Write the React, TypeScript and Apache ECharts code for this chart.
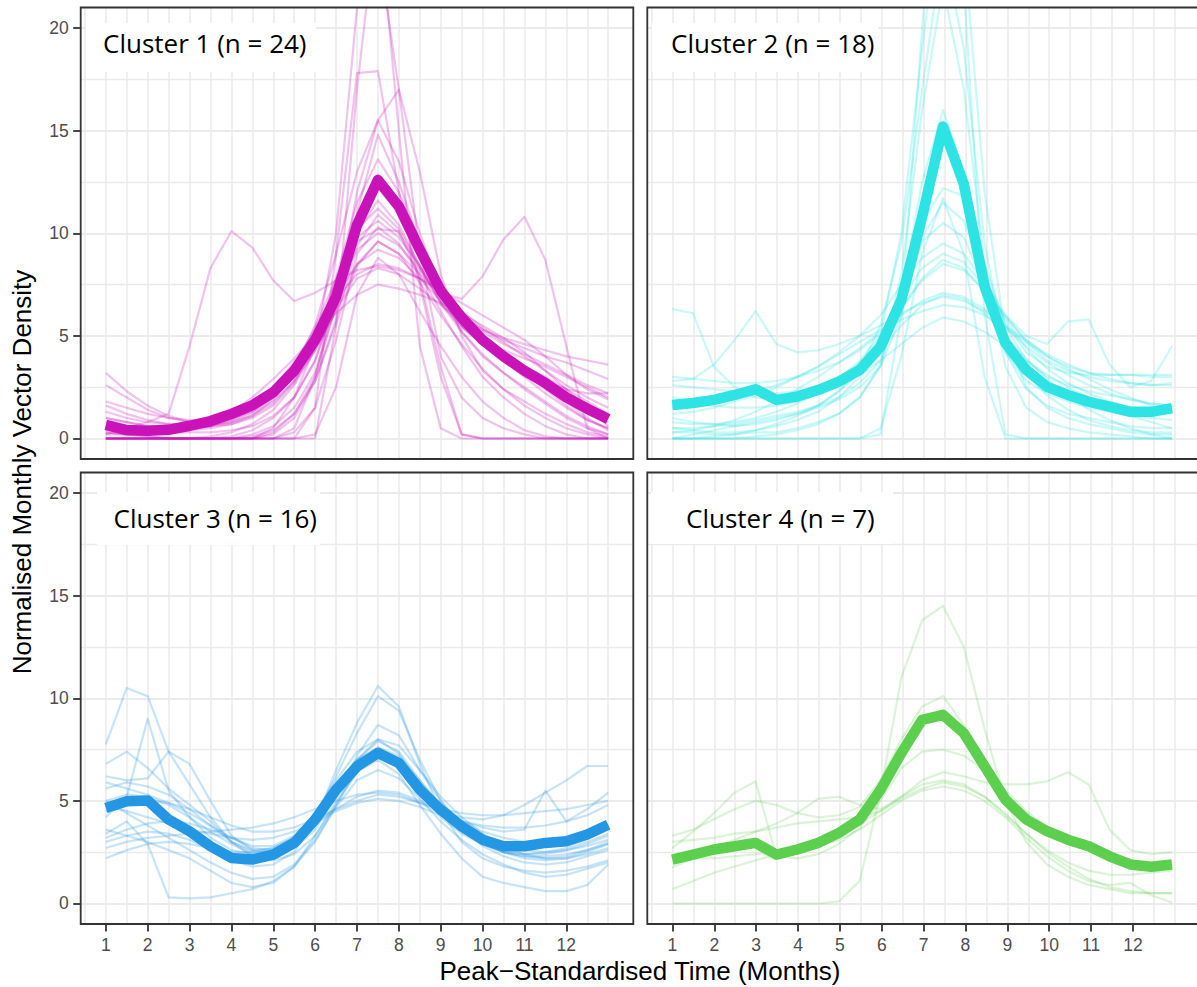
import React, { useEffect, useRef } from "react";
import * as echarts from "echarts";

// Peak-standardised month positions (half-month steps)
const MONTHS = [1, 1.5, 2, 2.5, 3, 3.5, 4, 4.5, 5, 5.5, 6, 6.5, 7, 7.5, 8, 8.5, 9, 9.5, 10, 10.5, 11, 11.5, 12, 12.5, 13];
const X_TICKS = [1, 2, 3, 4, 5, 6, 7, 8, 9, 10, 11, 12];
const Y_TICKS = [0, 5, 10, 15, 20];

const CLUSTER_LABELS = ["Cluster 1 (n = 24)", "Cluster 2 (n = 18)", "Cluster 3 (n = 16)", "Cluster 4 (n = 7)"];
const CLUSTER_COLORS = ["#CA12B9", "#2DE3E3", "#2397E3", "#5DCF4F"];

const X_TITLE = "Peak\u2212Standardised Time (Months)";
const Y_TITLE = "Normalised Monthly Vector Density";

// Cluster means
const C1_MEAN = [0.66, 0.41, 0.38, 0.42, 0.62, 0.85, 1.2, 1.62, 2.25, 3.3, 4.8, 6.9, 10.4, 12.6, 11.3, 9.2, 7.2, 5.9, 4.8, 4.0, 3.3, 2.7, 2.0, 1.45, 0.95];
const C2_MEAN = [1.63, 1.73, 1.88, 2.12, 2.4, 1.88, 2.04, 2.36, 2.77, 3.34, 4.47, 6.75, 10.8, 15.2, 12.4, 7.4, 4.65, 3.34, 2.52, 2.12, 1.79, 1.55, 1.3, 1.3, 1.48];
const C3_MEAN = [4.65, 4.98, 5.02, 4.09, 3.52, 2.79, 2.22, 2.14, 2.38, 2.95, 4.09, 5.54, 6.68, 7.33, 6.84, 5.54, 4.57, 3.76, 3.11, 2.79, 2.79, 2.95, 3.03, 3.36, 3.84];
const C4_MEAN = [2.14, 2.38, 2.63, 2.79, 2.95, 2.38, 2.63, 2.95, 3.44, 4.09, 5.54, 7.33, 8.95, 9.19, 8.3, 6.68, 5.06, 4.09, 3.52, 3.11, 2.79, 2.3, 1.9, 1.79, 1.9];

// Individual site profiles, cluster 1
const C1_SITES = [
  [0.2, 0.5, 0.8, 1.2, 4.5, 8.3, 10.1, 9.3, 7.7, 6.7, 7.1, 7.7, 8.2, 8.4, 8.2, 7.8, 7.1, 6.2, 5.4, 4.7, 4.0, 3.3, 2.6, 2.0, 1.5],
  [1.0, 0.8, 0.6, 0.5, 0.5, 0.6, 0.8, 1.2, 1.8, 2.8, 4.3, 6.2, 8.5, 9.6, 9.0, 8.0, 7.1, 6.8, 7.9, 9.7, 10.8, 8.7, 4.5, 0.5, 0.0],
  [0, 0, 0, 0, 0, 0, 0, 0, 0, 0, 0, 5.5, 17, 26, 15, 4.5, 0.5, 0, 0, 0, 0, 0, 0, 0, 0],
  [0, 0, 0, 0, 0, 0, 0, 0, 0, 0, 1.5, 9, 17.8, 17.9, 12, 7.5, 3, 0.2, 0, 0, 0, 0, 0, 0, 0],
  [0, 0, 0, 0, 0, 0, 0, 0, 0.5, 2, 4.5, 10, 21, 24, 17, 9, 4, 2, 1, 0.5, 0.2, 0, 0, 0, 0],
  [0.3, 0.2, 0.1, 0, 0, 0, 0, 0.2, 0.6, 1.5, 3.2, 6.5, 12, 15.5, 17, 13, 8, 5, 3.3, 2.4, 1.8, 1.2, 0.7, 0.3, 0.1],
  [1.8, 1.5, 1.2, 1.0, 0.9, 0.9, 1.0, 1.3, 2.0, 3.3, 5.5, 9, 13, 15.5, 13.5, 10, 7.2, 5.5, 4.6, 3.9, 3.2, 2.4, 1.6, 0.9, 0.5],
  [0, 0, 0, 0, 0, 0, 0, 0, 0.3, 1.2, 3, 6.5, 11, 14.8, 12.5, 9.5, 7, 5.2, 4, 3.2, 2.5, 1.8, 1.1, 0.6, 0.2],
  [3.2, 2.3, 1.6, 1.1, 0.8, 0.7, 0.8, 1.1, 1.7, 2.8, 4.6, 7.8, 11.5, 13.6, 12, 9.6, 7.4, 6.0, 5.2, 4.6, 4.1, 3.6, 3.1, 2.6, 2.2],
  [0.6, 0.5, 0.4, 0.3, 0.3, 0.3, 0.4, 0.6, 1.1, 2.0, 3.8, 6.8, 10.5, 12.8, 11.5, 9.2, 7.0, 5.6, 4.8, 4.3, 3.9, 3.5, 3.0, 2.5, 2.0],
  [1.6, 1.2, 0.9, 0.7, 0.6, 0.6, 0.7, 1.0, 1.6, 2.7, 4.5, 7.4, 10.6, 12.2, 11.0, 8.9, 6.9, 5.5, 4.6, 3.9, 3.2, 2.5, 1.8, 1.2, 0.8],
  [0, 0, 0, 0, 0, 0, 0.1, 0.4, 1.0, 2.0, 3.8, 6.8, 10.0, 11.6, 10.4, 8.4, 6.6, 5.4, 4.6, 4.0, 3.5, 3.0, 2.4, 1.8, 1.2],
  [2.6, 2.0, 1.4, 1.0, 0.8, 0.8, 0.9, 1.3, 2.0, 3.2, 5.0, 7.6, 10.2, 11.2, 10.2, 8.4, 6.7, 5.5, 4.6, 3.8, 3.0, 2.2, 1.5, 0.9, 0.5],
  [0.3, 0.2, 0.1, 0, 0, 0, 0, 0.1, 0.4, 1.2, 2.8, 5.8, 9.4, 10.9, 10.0, 8.3, 6.6, 5.2, 4.1, 3.2, 2.4, 1.7, 1.0, 0.5, 0.2],
  [1.0, 0.8, 0.6, 0.5, 0.5, 0.6, 0.9, 1.4, 2.3, 3.6, 5.4, 7.8, 9.8, 10.6, 9.8, 8.4, 7.0, 6.0, 5.3, 4.8, 4.4, 4.0, 3.7, 3.3, 2.9],
  [0, 0, 0, 0, 0, 0, 0, 0, 0, 0.3, 1.5, 4.8, 9, 10.3, 9.5, 8.0, 6.2, 4.5, 3.0, 2.0, 1.2, 0.6, 0.2, 0, 0],
  [0.8, 0.6, 0.5, 0.4, 0.4, 0.5, 0.7, 1.1, 1.9, 3.2, 5.0, 7.3, 9.2, 10.0, 9.4, 8.2, 7.0, 6.0, 5.3, 4.9, 4.6, 4.3, 4.0, 3.8, 3.6],
  [0, 0, 0, 0, 0, 0, 0, 0, 0.2, 1.0, 2.8, 5.6, 8.4, 9.6, 9.0, 7.6, 6.0, 4.6, 3.4, 2.4, 1.6, 1.0, 0.5, 0.2, 0],
  [1.3, 1.0, 0.8, 0.7, 0.7, 0.8, 1.0, 1.4, 2.1, 3.3, 4.9, 6.9, 8.5, 9.2, 8.8, 7.8, 6.7, 5.7, 4.8, 4.0, 3.3, 2.8, 2.4, 2.2, 2.2],
  [0, 0, 0, 0, 0, 0, 0, 0, 0, 0, 0.2, 2.5, 7.0, 8.8, 8.0, 6.2, 4.5, 3.0, 1.8, 1.0, 0.4, 0.1, 0, 0, 0],
  [0.4, 0.3, 0.3, 0.3, 0.4, 0.6, 1.0, 1.6, 2.5, 3.7, 5.2, 6.8, 8.0, 8.5, 8.3, 7.8, 7.2, 6.6, 6.0, 5.4, 4.8, 4.0, 3.1, 2.4, 1.9],
  [0, 0, 0, 0, 0, 0.1, 0.3, 0.7, 1.4, 2.6, 4.3, 6.3, 7.8, 8.3, 8.0, 7.3, 6.5, 5.7, 4.9, 4.2, 3.4, 2.6, 1.8, 1.0, 0.4],
  [0.2, 0.2, 0.2, 0.3, 0.5, 0.8, 1.3, 2.0, 2.9, 3.9, 5.0, 6.1, 7.0, 7.5, 7.3, 7.0, 6.6, 6.1, 5.5, 4.9, 4.2, 3.3, 2.4, 1.5, 0.6],
  [0, 0, 0, 0, 0, 0, 0, 0, 0, 0.5, 3.0, 7.2, 9.6, 10.2, 10.1, 7.8, 3.5, 0.2, 0, 0, 0, 0, 0, 0, 0],
];

// Individual site profiles, cluster 2
const C2_SITES = [
  [0, 0, 0, 0, 0, 0, 0, 0, 0, 0, 0.2, 6, 20, 32, 22, 6, 0.2, 0, 0, 0, 0, 0, 0, 0, 0],
  [0.5, 0.4, 0.3, 0.3, 0.4, 0.6, 0.9, 1.3, 2.0, 3.0, 5.0, 10, 19, 27, 24, 12, 5, 2.5, 1.5, 1.0, 0.7, 0.5, 0.3, 0.2, 0.2],
  [1.0, 0.8, 0.7, 0.6, 0.7, 0.9, 1.2, 1.6, 2.3, 3.4, 5.5, 9.5, 17, 24, 19, 9.5, 4.2, 2.4, 1.6, 1.2, 1.0, 0.8, 0.6, 0.5, 0.5],
  [0.3, 0.3, 0.2, 0.2, 0.3, 0.3, 0.5, 0.8, 1.2, 2.0, 3.6, 8, 16, 22, 17, 8.5, 3.5, 1.5, 0.8, 0.5, 0.3, 0.2, 0.1, 0, 0],
  [0, 0, 0, 0, 0.1, 0.2, 0.4, 0.7, 1.2, 2.0, 3.5, 7, 12.5, 16, 13, 7.5, 4.2, 2.8, 2.2, 1.8, 1.5, 1.3, 1.1, 1.0, 0.9],
  [2.6, 2.5, 2.4, 2.3, 2.3, 2.2, 2.3, 2.4, 2.7, 3.2, 4.2, 6.8, 10.5, 12.2, 11.8, 8.5, 5.5, 3.8, 3.0, 2.6, 2.3, 2.1, 1.9, 1.7, 1.6],
  [1.5, 1.6, 1.8, 2.0, 2.3, 2.6, 3.0, 3.5, 4.2, 5.0, 6.0, 7.5, 8.8, 9.5, 9.0, 7.6, 6.0, 4.7, 3.8, 3.3, 3.0, 2.8, 2.7, 2.6, 2.6],
  [0.8, 0.7, 0.7, 0.8, 1.0, 1.3, 1.7, 2.2, 2.9, 3.8, 5.0, 6.8, 8.3, 9.0, 8.6, 7.4, 5.8, 4.4, 3.4, 2.7, 2.2, 1.8, 1.5, 1.3, 1.2],
  [3.0, 2.9, 2.8, 2.7, 2.7, 2.8, 3.0, 3.3, 3.7, 4.3, 5.1, 6.4, 7.7, 8.5, 8.2, 7.2, 5.9, 4.8, 4.0, 3.5, 3.2, 3.1, 3.1, 3.0, 3.0],
  [0.3, 0.4, 0.6, 0.9, 1.3, 1.8, 2.4, 3.0, 3.7, 4.4, 5.2, 6.0, 6.7, 7.1, 6.9, 6.3, 5.4, 4.5, 3.7, 3.1, 2.6, 2.2, 1.9, 1.7, 1.6],
  [2.8, 2.9, 3.6, 4.8, 6.2, 4.6, 4.2, 4.3, 4.6, 5.0, 5.5, 6.1, 6.6, 6.9, 6.7, 6.2, 5.5, 4.8, 4.1, 3.6, 3.2, 2.9, 2.7, 2.6, 2.7],
  [1.2, 1.3, 1.5, 1.8, 2.1, 2.5, 3.0, 3.5, 4.1, 4.7, 5.3, 5.8, 6.2, 6.5, 6.4, 6.0, 5.4, 4.7, 4.0, 3.4, 2.9, 2.4, 2.0, 1.6, 1.3],
  [6.3, 6.1, 3.5, 2.5, 2.0, 1.9, 2.0, 2.2, 2.6, 3.1, 3.8, 4.6, 5.4, 5.9, 5.7, 5.2, 4.5, 3.8, 3.1, 2.5, 2.0, 1.5, 1.1, 0.8, 0.5],
  [0, 0, 0, 0, 0, 0, 0, 0, 0, 0, 0.5, 4, 9, 11.7, 9, 3, 0, 0, 0, 0, 0, 0, 0, 0, 0],
  [2.0, 1.8, 1.6, 1.5, 1.5, 1.6, 1.8, 2.2, 2.8, 3.7, 4.8, 6.3, 7.8, 8.7, 8.3, 7.2, 6.0, 5.0, 4.6, 5.7, 5.8, 3.6, 2.5, 2.8, 4.5],
  [0, 0, 0.1, 0.2, 0.4, 0.7, 1.1, 1.6, 2.3, 3.2, 4.3, 5.5, 6.5, 7.0, 6.8, 6.1, 5.0, 3.9, 2.9, 2.1, 1.4, 0.9, 0.5, 0.2, 0],
  [0.5, 0.5, 0.6, 0.7, 0.9, 1.1, 1.3, 1.6, 2.0, 2.7, 3.8, 6.5, 9.6, 10.5, 9.8, 7.5, 5.0, 3.2, 2.1, 1.4, 0.9, 0.6, 0.4, 0.3, 0.3],
  [0, 0.2, 0.4, 0.6, 0.8, 1.0, 1.2, 1.5, 1.9, 2.5, 3.5, 6.0, 9.8, 11.5, 10.6, 8.0, 5.6, 4.2, 3.5, 3.2, 3.1, 3.1, 3.1, 3.1, 3.1],
];

// Individual site profiles, cluster 3
const C3_SITES = [
  [7.75, 10.5, 10.1, 7.4, 5.8, 4.2, 3.0, 2.6, 2.7, 3.2, 4.3, 5.8, 7.0, 7.6, 7.2, 6.0, 4.8, 3.8, 3.0, 2.5, 2.3, 2.3, 2.4, 2.6, 2.9],
  [4.2, 5.2, 9.0, 5.5, 4.2, 3.2, 2.6, 2.4, 2.6, 3.2, 4.4, 6.0, 7.4, 8.0, 7.3, 5.8, 4.5, 3.6, 3.0, 2.6, 2.4, 2.4, 2.6, 2.9, 3.3],
  [6.8, 7.4, 6.6, 5.6, 4.8, 4.0, 3.0, 2.3, 2.1, 2.4, 3.3, 4.8, 6.4, 7.6, 7.0, 5.5, 4.2, 3.4, 2.9, 2.5, 2.3, 2.2, 2.3, 2.6, 3.0],
  [6.2, 6.0, 6.1, 7.4, 6.8, 5.0, 3.3, 2.6, 2.5, 2.9, 3.9, 5.4, 7.0, 8.0, 7.7, 6.5, 5.2, 4.2, 3.4, 2.8, 2.4, 2.2, 2.2, 2.4, 2.7],
  [3.4, 4.0, 2.9, 0.3, 0.25, 0.3, 0.5, 0.7, 1.1, 1.8, 3.0, 4.8, 6.6, 7.5, 7.0, 5.6, 4.4, 3.5, 2.9, 2.5, 2.2, 2.1, 2.2, 2.5, 2.9],
  [3.0, 3.3, 3.5, 3.4, 3.1, 2.6, 2.1, 1.8, 1.9, 2.5, 4.0, 6.5, 8.8, 10.6, 9.6, 6.8, 4.5, 3.0, 2.2, 1.8, 1.6, 1.5, 1.6, 1.8, 2.1],
  [5.6, 5.9, 5.7, 5.3, 4.6, 3.8, 3.0, 2.5, 2.5, 3.0, 4.2, 6.2, 8.3, 10.1, 9.4, 7.0, 5.0, 3.7, 2.8, 2.3, 2.0, 1.9, 2.0, 2.3, 2.6],
  [5.0, 5.3, 5.2, 4.8, 4.2, 3.5, 2.9, 2.4, 2.3, 2.7, 3.6, 5.2, 7.2, 8.7, 8.2, 6.5, 5.0, 3.9, 3.2, 2.8, 2.6, 2.5, 2.6, 2.8, 3.1],
  [4.8, 4.5, 4.2, 3.9, 3.6, 3.4, 3.2, 3.1, 3.2, 3.5, 4.0, 4.6, 5.2, 5.5, 5.4, 5.0, 4.5, 4.2, 4.1, 4.3, 4.8, 5.4, 6.0, 6.7, 6.7],
  [2.7, 3.0, 3.2, 3.3, 3.4, 3.5, 3.6, 3.7, 3.9, 4.2, 4.6, 5.0, 5.3, 5.4, 5.3, 4.9, 4.4, 4.0, 3.7, 3.5, 3.6, 5.5, 4.0, 4.6, 5.4],
  [2.2, 2.6, 2.9, 3.0, 2.9, 2.7, 2.5, 2.5, 2.7, 3.2, 3.9, 4.5, 4.9, 5.1, 5.0, 4.7, 4.3, 4.0, 3.8, 3.7, 3.7, 3.8, 4.0, 4.3, 4.8],
  [3.6, 3.3, 3.0, 2.6, 2.2, 1.6, 1.0, 0.8, 1.0, 1.8, 3.3, 5.0, 6.4, 7.0, 6.3, 4.8, 3.4, 2.2, 1.3, 1.0, 0.8, 0.6, 0.6, 0.9, 1.9],
  [5.9, 5.6, 5.3, 4.9, 4.4, 3.8, 3.2, 2.7, 2.6, 3.0, 4.0, 5.6, 7.0, 7.9, 7.4, 6.0, 4.6, 3.6, 2.9, 2.5, 2.4, 2.5, 2.7, 3.0, 3.4],
  [5.0, 4.4, 3.8, 3.2, 2.6, 2.0, 1.5, 1.2, 1.3, 1.9, 3.1, 4.7, 6.0, 6.5, 6.1, 5.1, 4.0, 3.1, 2.4, 1.9, 1.5, 1.3, 1.4, 1.7, 2.0],
  [3.2, 3.6, 3.9, 4.0, 3.9, 3.6, 3.2, 2.8, 2.8, 3.3, 4.2, 5.5, 6.7, 7.3, 7.0, 5.9, 4.8, 4.0, 3.5, 3.2, 3.0, 2.9, 3.0, 3.3, 3.7],
  [4.5, 4.8, 5.0, 4.9, 4.6, 4.2, 3.8, 3.5, 3.5, 3.7, 4.1, 4.6, 5.0, 5.3, 5.2, 4.9, 4.6, 4.4, 4.3, 4.3, 4.4, 4.5, 4.6, 4.8, 5.0],
];

// Individual site profiles, cluster 4
const C4_SITES = [
  [0, 0, 0, 0, 0, 0, 0, 0, 0.1, 1.1, 5.4, 11, 13.8, 14.5, 12.5, 8.5, 5.0, 3.0, 1.9, 1.3, 0.9, 0.7, 0.5, 0.5, 0.5],
  [3.3, 3.6, 4.1, 4.6, 5.0, 4.8, 4.4, 4.2, 4.3, 4.7, 6.0, 8.0, 9.6, 10.1, 8.7, 6.5, 4.8, 3.9, 3.3, 2.9, 2.6, 2.3, 2.1, 1.9, 1.7],
  [2.7, 3.5, 4.4, 5.4, 5.95, 2.3, 2.2, 2.4, 2.9, 3.7, 5.0, 6.6, 7.4, 7.5, 7.2, 6.5, 5.5, 4.5, 3.7, 3.1, 2.6, 2.2, 1.9, 1.8, 1.8],
  [3.0, 3.1, 3.2, 3.4, 3.5, 3.7, 3.9, 4.0, 4.1, 4.2, 4.5, 5.2, 6.0, 6.4, 6.2, 5.9, 5.8, 5.8, 5.95, 6.4, 5.8, 3.6, 2.6, 2.4, 2.5],
  [1.75, 2.2, 2.7, 3.1, 3.5, 3.9, 4.4, 5.1, 5.2, 4.8, 4.6, 5.2, 5.8, 6.0, 5.8, 5.2, 4.3, 3.4, 2.6, 2.0, 1.6, 1.4, 1.4, 1.5, 1.6],
  [0.7, 1.1, 1.5, 1.8, 2.1, 2.4, 2.7, 3.0, 3.4, 3.9, 4.5, 5.1, 5.6, 5.9, 5.7, 5.2, 4.4, 3.4, 2.5, 1.8, 1.2, 0.8, 0.6, 0.5, 0.5],
  [2.3, 2.2, 2.2, 2.3, 2.4, 2.5, 2.6, 2.8, 3.1, 3.6, 4.3, 5.0, 5.5, 5.7, 5.5, 5.0, 4.2, 3.2, 2.3, 1.6, 1.1, 0.9, 1.0, 0.4, 0.05],
];

const CLUSTER_MEANS = [C1_MEAN, C2_MEAN, C3_MEAN, C4_MEAN];
const CLUSTER_SITES = [C1_SITES, C2_SITES, C3_SITES, C4_SITES];

// Facet geometry (pixels) and data ranges
const COLS = [
  { left: 80.7, width: 552.6 },
  { left: 647.3, width: 552.6 },
];
const ROWS = [
  { top: 7.5, height: 451.5 },
  { top: 472.5, height: 451.5 },
];
const X_RANGE = [0.4, 13.6];
const Y_RANGE = [-1, 21];
const LABEL_BOXES = [
  { x: 86, y: 23, w: 230, h: 49, tx: 103, ty: 43 },
  { x: 652, y: 23, w: 226, h: 49, tx: 671, ty: 43 },
  { x: 97, y: 492, w: 223, h: 53, tx: 113.5, ty: 517.5 },
  { x: 651, y: 492, w: 242, h: 52, tx: 686, ty: 517.5 },
];

const GRID_COLOR = "#ebebeb";
const AXIS_DARK = "#333333";
const SANS = "'Liberation Sans', Arial, Helvetica, sans-serif";
const LABEL_FONT = "'Open Sans', 'Noto Sans', sans-serif";

function px(col: { left: number; width: number }, v: number) {
  return col.left + ((v - X_RANGE[0]) / (X_RANGE[1] - X_RANGE[0])) * col.width;
}
function py(row: { top: number; height: number }, v: number) {
  return row.top + ((Y_RANGE[1] - v) / (Y_RANGE[1] - Y_RANGE[0])) * row.height;
}

function buildOption() {
  const grid: any[] = [];
  const xAxis: any[] = [];
  const yAxis: any[] = [];
  const series: any[] = [];
  const graphic: any[] = [];

  const hiddenAxis = (gridIndex: number, min: number, max: number) => ({
    gridIndex,
    type: "value",
    min,
    max,
    show: false,
  });

  for (let i = 0; i < 4; i++) {
    const col = COLS[i % 2];
    const row = ROWS[Math.floor(i / 2)];
    const isLeft = i % 2 === 0;
    const isBottom = i >= 2;

    // horizontal grid lines + y ticks
    let g = grid.length;
    grid.push({ left: col.left, top: py(row, Y_TICKS[Y_TICKS.length - 1]), width: col.width, height: py(row, Y_TICKS[0]) - py(row, Y_TICKS[Y_TICKS.length - 1]) });
    xAxis.push(hiddenAxis(g, 0, 1));
    yAxis.push({
      gridIndex: g,
      type: "value",
      min: Y_TICKS[0],
      max: Y_TICKS[Y_TICKS.length - 1],
      interval: Y_TICKS[1] - Y_TICKS[0],
      axisLine: { show: false, onZero: false },
      axisTick: { show: isLeft, length: 7.5, lineStyle: { color: AXIS_DARK, width: 1.8 } },
      axisLabel: { show: isLeft, color: "#4d4d4d", fontSize: 17.5, fontFamily: SANS, margin: 12 },
      splitLine: { show: true, lineStyle: { color: GRID_COLOR, width: 1.8 } },
      minorTick: { show: false, splitNumber: 2 },
      minorSplitLine: { show: true, lineStyle: { color: GRID_COLOR, width: 1.4 } },
    });

    // vertical grid lines every half month
    g = grid.length;
    grid.push({ left: px(col, 0.5), top: row.top, width: px(col, 13) - px(col, 0.5), height: row.height });
    xAxis.push({
      gridIndex: g,
      type: "value",
      min: 0.5,
      max: 13,
      interval: 0.5,
      axisLine: { show: false, onZero: false },
      axisTick: { show: false },
      axisLabel: { show: false },
      splitLine: { show: true, lineStyle: { color: GRID_COLOR, width: 1.6 } },
    });
    yAxis.push(hiddenAxis(g, 0, 1));

    // x ticks + labels on the bottom row
    if (isBottom) {
      g = grid.length;
      const x0 = X_TICKS[0];
      const x1 = X_TICKS[X_TICKS.length - 1];
      grid.push({ left: px(col, x0), top: row.top, width: px(col, x1) - px(col, x0), height: row.height });
      xAxis.push({
        gridIndex: g,
        type: "value",
        position: "bottom",
        min: x0,
        max: x1,
        interval: X_TICKS[1] - X_TICKS[0],
        axisLine: { show: false, onZero: false },
        axisTick: { show: true, length: 7.5, lineStyle: { color: AXIS_DARK, width: 1.8 } },
        axisLabel: { show: true, color: "#4d4d4d", fontSize: 17.5, fontFamily: SANS, margin: 12 },
        splitLine: { show: false },
      });
      yAxis.push(hiddenAxis(g, 0, 1));
    }

    // data panel
    g = grid.length;
    grid.push({ left: col.left, top: row.top, width: col.width, height: row.height });
    xAxis.push(hiddenAxis(g, X_RANGE[0], X_RANGE[1]));
    yAxis.push(hiddenAxis(g, Y_RANGE[0], Y_RANGE[1]));

    const color = CLUSTER_COLORS[i];
    CLUSTER_SITES[i].forEach((vals, k) => {
      series.push({
        type: "line",
        name: `${CLUSTER_LABELS[i]} site ${k + 1}`,
        xAxisIndex: g,
        yAxisIndex: g,
        data: MONTHS.map((m, j) => [m, vals[j]]),
        showSymbol: false,
        symbol: "none",
        silent: true,
        clip: true,
        z: 2,
        lineStyle: { color, width: 2.2, opacity: i === 3 ? 0.22 : 0.26, join: "round" },
      });
    });
    series.push({
      type: "line",
      name: CLUSTER_LABELS[i],
      xAxisIndex: g,
      yAxisIndex: g,
      data: MONTHS.map((m, j) => [m, CLUSTER_MEANS[i][j]]),
      showSymbol: false,
      symbol: "none",
      silent: true,
      clip: true,
      z: 3,
      lineStyle: { color, width: 10.5, opacity: 1, join: "round", cap: "butt" },
    });

    // facet label
    const b = LABEL_BOXES[i];
    graphic.push({
      type: "rect",
      z: 10,
      silent: true,
      shape: { x: b.x, y: b.y, width: b.w, height: b.h },
      style: { fill: "#ffffff" },
    });
    graphic.push({
      type: "text",
      z: 11,
      silent: true,
      x: b.tx,
      y: b.ty,
      style: {
        text: CLUSTER_LABELS[i],
        fill: "#000000",
        fontSize: 26,
        fontFamily: LABEL_FONT,
        align: "left",
        verticalAlign: "middle",
      },
    });

    // panel border
    graphic.push({
      type: "rect",
      z: 50,
      silent: true,
      shape: { x: col.left, y: row.top, width: col.width, height: row.height },
      style: { fill: "none", stroke: AXIS_DARK, lineWidth: 1.8 },
    });
  }

  graphic.push({
    type: "text",
    z: 20,
    silent: true,
    x: 640,
    y: 971,
    style: {
      text: X_TITLE,
      fill: "#000000",
      fontSize: 26,
      fontFamily: SANS,
      align: "center",
      verticalAlign: "middle",
    },
  });
  graphic.push({
    type: "text",
    z: 20,
    silent: true,
    x: 22,
    y: 472,
    rotation: Math.PI / 2,
    style: {
      text: Y_TITLE,
      fill: "#000000",
      fontSize: 26,
      fontFamily: SANS,
      align: "center",
      verticalAlign: "middle",
    },
  });

  return {
    animation: false,
    backgroundColor: "#ffffff",
    grid,
    xAxis,
    yAxis,
    series,
    graphic,
  };
}

export default function App() {
  const ref = useRef<HTMLDivElement>(null);
  useEffect(() => {
    if (!ref.current) return;
    const chart = echarts.init(ref.current, undefined, { renderer: "svg" });
    chart.setOption(buildOption() as any);
    return () => chart.dispose();
  }, []);
  return (
    <div
      ref={ref}
      style={{ position: "absolute", left: 0, top: 0, width: 1197, height: 987, background: "#fff" }}
    />
  );
}
